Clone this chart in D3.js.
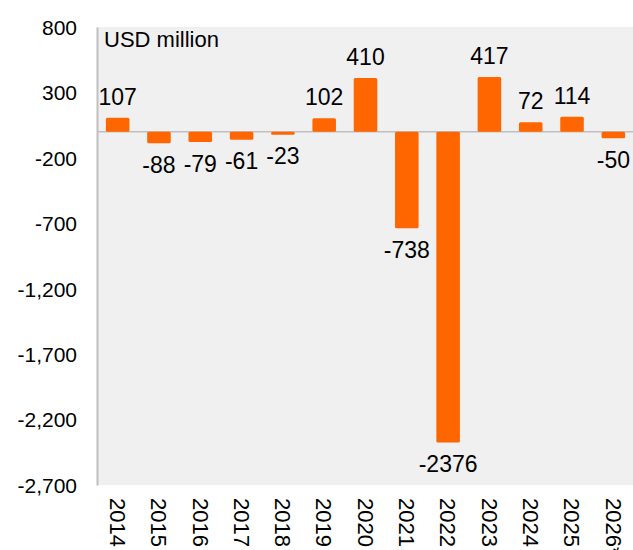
<!DOCTYPE html>
<html lang="en">
<head>
  <meta charset="UTF-8">
  <title>Balance chart</title>
  <script src="https://d3js.org/d3.v7.min.js"></script>
  <style>
    body { margin: 0; background: #fff; }
    text { font-family: Arial, "Liberation Sans", sans-serif; fill: #000; }
  </style>
</head>
<body>
<div class="main"></div>
<script>
  // data
  var years = ["2014", "2015", "2016", "2017", "2018", "2019", "2020", "2021", "2022", "2023", "2024", "2025", "2026*"];
  var values = [107, -88, -79, -61, -23, 102, 410, -738, -2376, 417, 72, 114, -50];
  var yTicks = [800, 300, -200, -700, -1200, -1700, -2200, -2700];
  var unitLabel = "USD million";

  // plot box (note: "top" is reserved on window, so use own names)
  var width = 633, height = 550;
  var plotLeft = 97, plotTop = 27, plotBottom = 485, plotRight = 634;

  var svg = d3.select(".main")
          .append("svg")
          .attr("width", width)
          .attr("height", height)
          .style("display", "block");

  var xScale = d3.scaleBand()
          .domain(years)
          .range([plotLeft, plotRight])
          .paddingInner(0.43)
          .paddingOuter(0.215);

  var yScale = d3.scaleLinear()
          .domain([-2700, 800])
          .range([plotBottom, plotTop]);

  // plot background
  svg.append("rect")
          .attr("x", plotLeft).attr("y", plotTop)
          .attr("width", plotRight - plotLeft).attr("height", plotBottom - plotTop)
          .attr("fill", "#f0f0f0");

  // y axis, plain hyphen for negatives like the source
  var fmt = d3.format(",");
  var yAxis = d3.axisLeft(yScale)
          .tickValues(yTicks)
          .tickSize(0)
          .tickPadding(20)
          .tickFormat(function (d) { return fmt(d).replace("\u2212", "-"); });

  var yG = svg.append("g")
          .attr("transform", `translate(${plotLeft}, 0)`)
          .call(yAxis);
  yG.select(".domain").attr("stroke", "#c0c0c0").attr("stroke-width", 2);
  yG.selectAll("text").style("font-size", "21px").attr("dy", "0.35em");

  // x axis labels, rotated
  var xAxis = d3.axisBottom(xScale).tickSize(0).tickPadding(0);
  var xG = svg.append("g")
          .attr("transform", `translate(0, ${plotBottom})`)
          .call(xAxis);
  xG.select(".domain").remove();
  xG.selectAll("text")
          .style("font-size", "22px")
          .attr("text-anchor", "start")
          .attr("transform", "rotate(90)")
          .attr("x", 13)
          .attr("y", 0)
          .attr("dy", "0.35em");

  // zero line
  svg.append("line")
          .attr("x1", plotLeft).attr("x2", plotRight)
          .attr("y1", yScale(0)).attr("y2", yScale(0))
          .attr("stroke", "#bfbfbf")
          .attr("stroke-width", 1.5);

  // bars
  svg.append("g").selectAll("rect")
          .data(values)
          .join("rect")
          .attr("x", function (d, i) { return xScale(years[i]); })
          .attr("y", function (d) { return yScale(Math.max(0, d)); })
          .attr("width", xScale.bandwidth())
          .attr("height", function (d) { return Math.abs(yScale(d) - yScale(0)); })
          .attr("rx", 1.5)
          .attr("fill", "#ff6600");

  // value labels
  svg.append("g").selectAll("text")
          .data(values)
          .join("text")
          .attr("x", function (d, i) { return xScale(years[i]) + xScale.bandwidth() / 2; })
          .attr("y", function (d) { return d >= 0 ? yScale(d) - 13 : yScale(d) + 13; })
          .attr("dy", function (d) { return d >= 0 ? "0" : "0.72em"; })
          .attr("text-anchor", "middle")
          .style("font-size", "23px")
          .text(function (d) { return d; });

  // unit label
  svg.append("text")
          .attr("x", 104).attr("y", 47)
          .style("font-size", "22px")
          .text(unitLabel);
</script>
</body>
</html>
